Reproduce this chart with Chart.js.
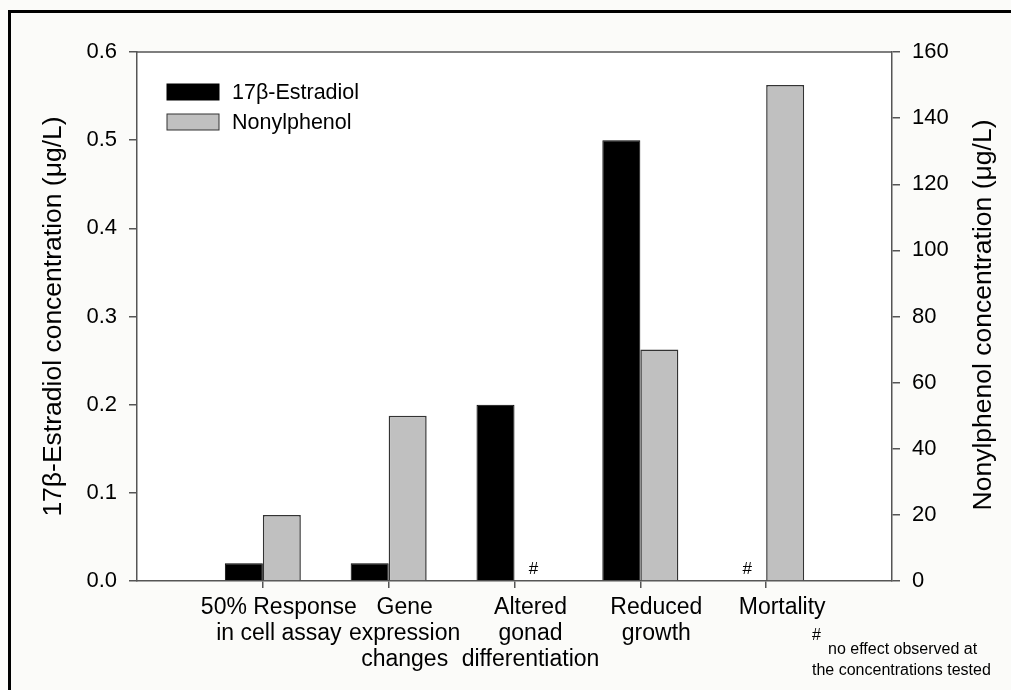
<!DOCTYPE html>
<html lang="en">
<head>
<meta charset="UTF-8" />
<title>Estradiol and nonylphenol effect concentrations</title>
<script src="https://cdn.jsdelivr.net/npm/chart.js@4.4.1"></script>
<style>
  html, body { margin:0; padding:0; background:#fbfbf9; overflow:hidden; }
  .wrap { position:relative; width:1011px; height:690px; font-family:"Liberation Sans", Arial, sans-serif; color:#000; }
  canvas { position:absolute; left:0; top:0; }
  .frame { position:absolute; left:8px; top:10px; width:1030px; height:720px; border:3px solid #000; box-sizing:border-box; }
  .note { position:absolute; font-size:16px; line-height:21px; white-space:nowrap; }
</style>
</head>
<body>
<div class="wrap">
  <canvas id="myChart" width="1011" height="690"></canvas>
  <div class="frame"></div>
  <div class="note" style="left:812px; top:624px;">#</div>
  <div class="note" style="left:828px; top:638px;">no effect observed at</div>
  <div class="note" style="left:812px; top:659px;">the concentrations tested</div>
</div>

<script>
  var categories = [
    ['50% Response', 'in cell assay'],
    ['Gene', 'expression', 'changes'],
    ['Altered', 'gonad', 'differentiation'],
    ['Reduced', 'growth'],
    ['Mortality']
  ];
  var estradiol   = [0.02, 0.02, 0.2, 0.5, null];   // µg/L, left axis
  var nonylphenol = [20, 50, null, 70, 150];        // µg/L, right axis

  var FONT = '"Liberation Sans", Arial, sans-serif';
  var AXIS = '#555';
  Chart.defaults.font.family = FONT;
  Chart.defaults.color = '#000';

  function pts(list){
    return list.map(function(v, i){ return { x: i + 1, y: v }; });
  }

  // legend, top frame line, "#" markers, right axis title
  var extras = {
    id: 'extras',
    beforeDraw: function(c){
      var a = c.chartArea, g = c.ctx;
      g.save(); g.fillStyle = '#fff';
      g.fillRect(a.left, a.top, a.right - a.left, a.bottom - a.top);
      g.restore();
    },
    afterDraw: function(c){
      var a = c.chartArea, g = c.ctx;
      g.save();
      g.strokeStyle = AXIS; g.lineWidth = 1.5;
      g.beginPath(); g.moveTo(a.left, a.top); g.lineTo(a.right, a.top); g.stroke();

      // legend
      g.font = '21.5px ' + FONT; g.textBaseline = 'middle';
      c.data.datasets.forEach(function(ds, k){
        var y = a.top + 32 + k * 30;
        g.fillStyle = ds.backgroundColor;
        g.fillRect(a.left + 30, y, 52, 16);
        g.strokeStyle = ds.borderColor; g.lineWidth = 1;
        g.strokeRect(a.left + 30, y, 52, 16);
        g.fillStyle = '#000';
        g.fillText(ds.label, a.left + 95, y + 9);
      });

      // "#" where nothing was observed
      g.font = '17px ' + FONT; g.textAlign = 'center'; g.textBaseline = 'bottom';
      var zero = c.scales.y.getPixelForValue(0);
      c.data.datasets.forEach(function(ds, k){
        var meta = c.getDatasetMeta(k);
        ds.data.forEach(function(p, i){
          if (p.y === null) g.fillText('#', meta.data[i].x, zero - 3);
        });
      });

      // right axis title reads bottom-to-top
      g.font = '26.5px ' + FONT; g.textBaseline = 'middle';
      g.translate(984, 315);
      g.rotate(-Math.PI / 2);
      g.fillText('Nonylphenol concentration (μg/L)', 0, 0);
      g.restore();
    }
  };

  var ctx = document.getElementById('myChart');
  new Chart(ctx, {
    type: 'bar',
    data: {
      datasets: [
        { label: '17β-Estradiol', data: pts(estradiol), yAxisID: 'y',
          backgroundColor: '#000', borderColor: '#000', borderWidth: 1 },
        { label: 'Nonylphenol', data: pts(nonylphenol), yAxisID: 'y1',
          backgroundColor: '#c0c0c0', borderColor: '#333', borderWidth: 1.5 }
      ]
    },
    options: {
      responsive: false,
      animation: false,
      layout: { padding: { top: 52, left: 0, right: 0, bottom: 0 } },
      datasets: { bar: { barPercentage: 1, categoryPercentage: 0.604 } },
      plugins: { legend: { display: false }, tooltip: { enabled: false } },
      scales: {
        x: {
          type: 'linear', min: 0, max: 6, offset: false,
          afterBuildTicks: function(s){
            s.ticks = categories.map(function(c, i){ return { value: i + 1 }; });
          },
          ticks: {
            callback: function(v){ return categories[v - 1]; },
            autoSkip: false, maxRotation: 0, padding: 6, labelOffset: 16,
            font: { size: 23, lineHeight: 1.15 }
          },
          grid: { drawOnChartArea: false, offset: false, tickLength: 7, color: AXIS, lineWidth: 1.5 },
          border: { color: AXIS, width: 1.5 },
          afterFit: function(s){ s.height = 109; }
        },
        y: {
          position: 'left', min: 0, max: 0.6,
          ticks: { stepSize: 0.1, padding: 12, font: { size: 22 },
                   callback: function(v){ return v.toFixed(1); } },
          grid: { drawOnChartArea: false, tickLength: 8, color: AXIS, lineWidth: 1.5 },
          border: { color: AXIS, width: 1.5 },
          title: { display: true, text: '17β-Estradiol concentration (μg/L)',
                   font: { size: 26.5 }, padding: { top: 38, bottom: 0 } },
          afterFit: function(s){ s.width = 137; }
        },
        y1: {
          position: 'right', min: 0, max: 160,
          ticks: { stepSize: 20, padding: 12, font: { size: 22 } },
          grid: { drawOnChartArea: false, tickLength: 8, color: AXIS, lineWidth: 1.5 },
          border: { color: AXIS, width: 1.5 },
          afterFit: function(s){ s.width = 119; }
        }
      }
    },
    plugins: [extras]
  });
</script>
</body>
</html>
